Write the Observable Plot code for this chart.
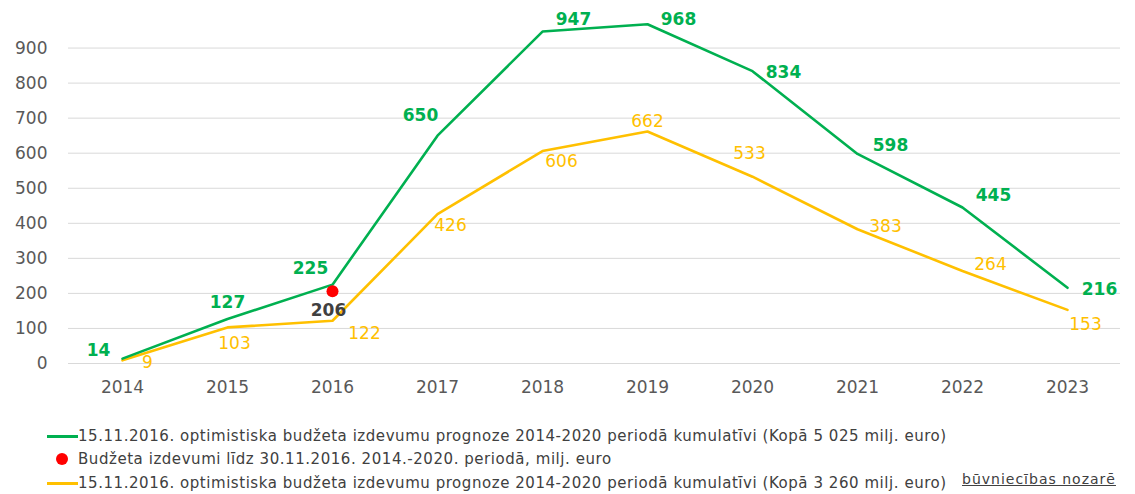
<!DOCTYPE html>
<html>
<head>
<meta charset="utf-8">
<script src="https://cdn.jsdelivr.net/npm/d3@7"></script>
<script src="https://cdn.jsdelivr.net/npm/@observablehq/plot@0.6"></script>
<style>
  body { margin: 0; background: #fff; }
  #wrap { position: relative; width: 1135px; height: 494px; font-family: "DejaVu Sans", sans-serif; color: #404040; }
  .leg { position: absolute; left: 0; font-size: 15px; letter-spacing: 0.55px; white-space: nowrap; line-height: 18px; }
  .sw { position: absolute; left: 47px; width: 31px; height: 3px; }
  .dot { position: absolute; left: 56px; width: 12px; height: 12px; border-radius: 50%; background: #ff0000; }
  .lt { position: absolute; left: 78px; }
  #src { position: absolute; left: 962px; top: 471px; font-size: 14px; letter-spacing: 1px; text-decoration: underline; color: #404040; white-space: nowrap; }
</style>
</head>
<body>
<div id="wrap">
  <div id="chart"></div>
  <div id="legend"></div>
  <div id="src"></div>
</div>
<script>
const years = ["2014","2015","2016","2017","2018","2019","2020","2021","2022","2023"];
const greenValues = [14, 127, 225, 650, 947, 968, 834, 598, 445, 216];
const yellowValues = [9, 103, 122, 426, 606, 662, 533, 383, 264, 153];
const actualYears = ["2016"];
const actualValues = [206];
const yTicks = [0, 100, 200, 300, 400, 500, 600, 700, 800, 900];
const legendLabels = [
  "15.11.2016. optimistiska budžeta izdevumu prognoze 2014-2020 periodā kumulatīvi (Kopā 5 025 milj. euro)",
  "Budžeta izdevumi līdz 30.11.2016. 2014.-2020. periodā, milj. euro",
  "15.11.2016. optimistiska budžeta izdevumu prognoze 2014-2020 periodā kumulatīvi (Kopā 3 260 milj. euro)"
];
const sourceLabel = "būvniecības nozarē";

// label offsets (layout only)
const greenOff = [[-24,-8],[0,-16],[-22,-16],[-17,-20],[31,-12],[31,-5],[31,1],[33,-8],[31,-12],[32,2]];
const yellowOff = [[25,2],[7,16],[32,13],[13,11],[19,10],[0,-10],[-3,-23],[28,-3],[28,-6],[18,15]];

const GREEN = "#00B050", YELLOW = "#FFC000", RED = "#FF0000";

const green = years.map((y, i) => ({year: y, value: greenValues[i]}));
const yellow = years.map((y, i) => ({year: y, value: yellowValues[i]}));
const actual = actualYears.map((y, i) => ({year: y, value: actualValues[i]}));

const marks = [
  Plot.gridY(yTicks, {stroke: "#d9d9d9", strokeOpacity: 1, strokeWidth: 1}),
  Plot.axisY({ticks: yTicks, tickSize: 0, tickPadding: 21, fontSize: 17, fill: "#595959", label: null}),
  Plot.axisX({tickSize: 0, tickPadding: 17, fontSize: 17, fill: "#595959", label: null}),
  Plot.line(yellow, {x: "year", y: "value", stroke: YELLOW, strokeWidth: 2.6}),
  Plot.line(green, {x: "year", y: "value", stroke: GREEN, strokeWidth: 2.6}),
  Plot.dot(actual, {x: "year", y: "value", r: 6, fill: RED, stroke: null}),
  Plot.text(actual, {x: "year", y: "value", text: d => String(d.value), dx: -4, dy: 19, fill: "#404040", fontWeight: "bold", fontSize: 17})
];
green.forEach((d, i) => {
  marks.push(Plot.text([d], {x: "year", y: "value", text: d => String(d.value), dx: greenOff[i][0], dy: greenOff[i][1], fill: GREEN, fontWeight: "bold", fontSize: 17}));
});
yellow.forEach((d, i) => {
  marks.push(Plot.text([d], {x: "year", y: "value", text: d => String(d.value), dx: yellowOff[i][0], dy: yellowOff[i][1], fill: YELLOW, fontSize: 17}));
});

const chart = Plot.plot({
  width: 1135,
  height: 410,
  marginLeft: 68,
  marginRight: 15,
  marginTop: 12.5,
  marginBottom: 47,
  style: {fontFamily: "DejaVu Sans, sans-serif", background: "#fff"},
  x: {type: "point", domain: years, padding: 0.5, label: null},
  y: {domain: [0, 1000], label: null},
  marks
});
document.getElementById("chart").appendChild(chart);

const legendColors = [GREEN, null, YELLOW];
const legendTops = [427, 450, 474];
const leg = document.getElementById("legend");
legendLabels.forEach((t, i) => {
  const row = document.createElement("div");
  row.className = "leg";
  row.style.top = legendTops[i] + "px";
  if (legendColors[i]) {
    const sw = document.createElement("div");
    sw.className = "sw"; sw.style.background = legendColors[i]; sw.style.top = "8px";
    row.appendChild(sw);
  } else {
    const dot = document.createElement("div");
    dot.className = "dot"; dot.style.top = "3px";
    row.appendChild(dot);
  }
  const lt = document.createElement("span");
  lt.className = "lt"; lt.textContent = t;
  row.appendChild(lt);
  leg.appendChild(row);
});
document.getElementById("src").textContent = sourceLabel;
</script>
</body>
</html>
